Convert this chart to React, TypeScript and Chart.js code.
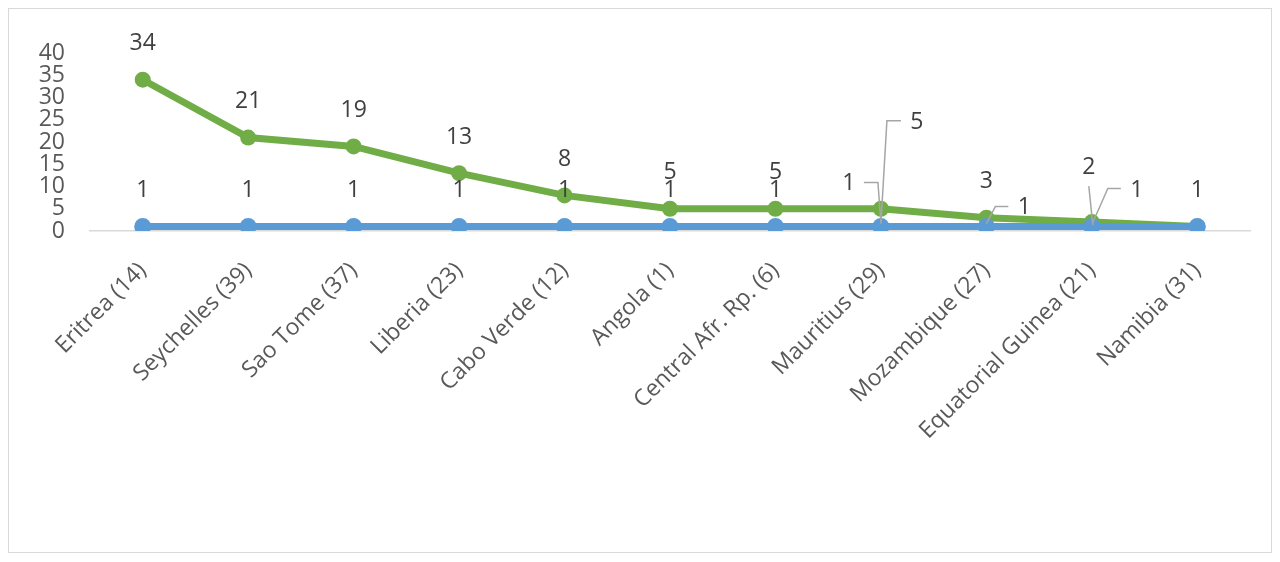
import React, { useEffect, useRef } from 'react'
import { Chart, registerables } from 'chart.js'

Chart.register(...registerables)

const categories = [
  'Eritrea (14)', 'Seychelles (39)', 'Sao Tome (37)', 'Liberia (23)', 'Cabo Verde (12)', 'Angola (1)',
  'Central Afr. Rp. (6)', 'Mauritius (29)', 'Mozambique (27)', 'Equatorial Guinea (21)', 'Namibia (31)',
]
const greenValues = [34, 21, 19, 13, 8, 5, 5, 5, 3, 2, 1]
const blueValues = [1, 1, 1, 1, 1, 1, 1, 1, 1, 1, 1]
const yTicks = [0, 5, 10, 15, 20, 25, 30, 35, 40]

const FONT = '"Open Sans", sans-serif'
const GREEN = '#70AD47'
const BLUE = '#5B9BD5'

// label placement per dataset: offset from the point, optional leader line (relative points)
type Callout = { dx: number; dy: number; line?: [number, number][]; hide?: boolean }
const defaultCallout: Callout = { dx: 0, dy: -36 }
const greenCallouts: Record<number, Callout> = {
  7: { dx: 36, dy: -86, line: [[20, -88], [6, -88], [0, 15]] },
  9: { dx: -3, dy: -55, line: [[-3, -36], [1, 3]] },
  10: { dx: 0, dy: -36, hide: true },
}
const blueCallouts: Record<number, Callout> = {
  7: { dx: -32, dy: -43, line: [[-17, -44], [-3, -44], [0, -4]] },
  8: { dx: 38, dy: -19, line: [[22, -20], [9, -20], [0, -3]] },
  9: { dx: 45, dy: -36, line: [[29, -38], [16, -38], [1, -4]] },
}

const labelPlugin = {
  id: 'pointLabels',
  afterDatasetsDraw(chart: Chart) {
    const ctx = chart.ctx
    const sets: [number, Record<number, Callout>][] = [[1, greenCallouts], [0, blueCallouts]]
    ctx.save()
    for (const [di, callouts] of sets) {
      const meta = chart.getDatasetMeta(di)
      const values = chart.data.datasets[di].data as number[]
      meta.data.forEach((pt: any, i: number) => {
        const c = callouts[i] || defaultCallout
        if (c.hide) return
        if (c.line) {
          ctx.strokeStyle = '#A6A6A6'
          ctx.lineWidth = 1.5
          ctx.beginPath()
          c.line.forEach(([lx, ly], k) => {
            if (k === 0) ctx.moveTo(pt.x + lx, pt.y + ly)
            else ctx.lineTo(pt.x + lx, pt.y + ly)
          })
          ctx.stroke()
        }
        ctx.fillStyle = '#404040'
        ctx.font = `23px ${FONT}`
        ctx.textAlign = 'center'
        ctx.textBaseline = 'middle'
        ctx.fillText(String(values[i]), pt.x + c.dx, pt.y + c.dy)
      })
    }
    ctx.restore()
  },
}

export default function App() {
  const canvasRef = useRef<HTMLCanvasElement>(null)
  const chartRef = useRef<Chart | null>(null)

  useEffect(() => {
    if (chartRef.current) { chartRef.current.destroy(); chartRef.current = null }
    if (!canvasRef.current) return
    const ctx = canvasRef.current.getContext('2d')
    if (!ctx) return

    chartRef.current = new Chart(ctx, {
      type: 'line',
      data: {
        labels: categories,
        datasets: [
          {
            label: 'Blue',
            data: blueValues,
            borderColor: BLUE,
            backgroundColor: BLUE,
            borderWidth: 7,
            pointRadius: 8.5,
            pointBorderWidth: 0,
            tension: 0,
            order: 0,
          },
          {
            label: 'Green',
            data: greenValues,
            borderColor: GREEN,
            backgroundColor: GREEN,
            borderWidth: 7,
            pointRadius: 8,
            pointBorderWidth: 0,
            tension: 0,
            order: 1,
          },
        ],
      },
      options: {
        responsive: true, maintainAspectRatio: false,
        animation: false,
        layout: { padding: { left: 20, right: 21, top: 44, bottom: 0 } },
        plugins: { legend: { display: false }, tooltip: { enabled: false } },
        scales: {
          x: {
            offset: true,
            grid: { display: false, drawTicks: false },
            border: { display: true, color: '#D9D9D9', width: 1.5 },
            ticks: {
              autoSkip: false, minRotation: 45, maxRotation: 45, padding: 26,
              color: '#595959', font: { family: FONT, size: 23 },
            },
            afterFit: (s: any) => { s.height = 321 },
          },
          y: {
            min: yTicks[0], max: yTicks[yTicks.length - 1],
            afterBuildTicks: (s: any) => { s.ticks = yTicks.map((v) => ({ value: v })) },
            grid: { display: false, drawTicks: false },
            border: { display: false },
            ticks: {
              autoSkip: false, padding: 25,
              color: '#595959', font: { family: FONT, size: 23, lineHeight: 1 },
            },
            afterFit: (s: any) => { s.width = 61 },
          },
        },
      },
      plugins: [labelPlugin],
    })

    return () => { if (chartRef.current) chartRef.current.destroy() }
  }, [])

  return (
    <div style={{ width: 1264, height: 545, border: '1px solid #D9D9D9', boxSizing: 'border-box', background: '#fff' }}>
      <div style={{ position: 'relative', width: '100%', height: '100%' }}>
        <canvas ref={canvasRef} />
      </div>
    </div>
  )
}
